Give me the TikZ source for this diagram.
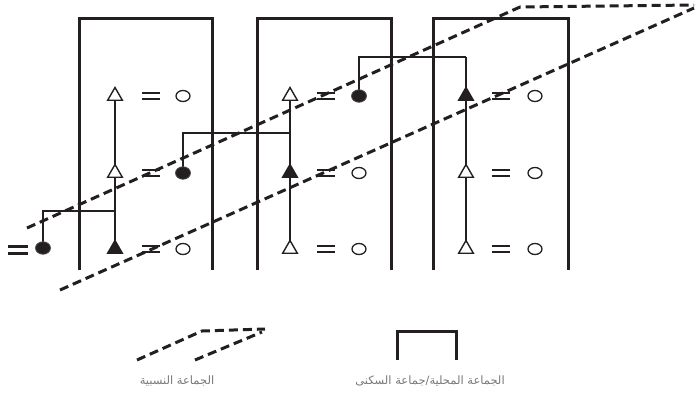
\documentclass[tikz,border=0pt]{standalone}
\usepackage{fontspec}
\newfontfamily\arabicfont[Script=Arabic]{DejaVu Sans}
\TeXXeTstate=1
\usetikzlibrary{shapes.geometric}
\definecolor{ink}{HTML}{231F20}
\definecolor{labelgray}{HTML}{77787B}
\tikzset{
  boxline/.style={draw=ink, line width=3pt, line cap=butt},
  conn/.style={draw=ink, line width=1.7pt},
  dsh/.style={draw=ink, line width=3pt, dash pattern=on 9pt off 5pt},
  tri/.style={regular polygon, regular polygon sides=3, minimum size=17pt, inner sep=0pt, draw=ink, line width=1.4pt, fill=white},
  trif/.style={tri, fill=ink},
  circ/.style={ellipse, minimum width=14pt, minimum height=11pt, inner sep=0pt, draw=ink, line width=1.3pt, fill=white},
  circf/.style={ellipse, minimum width=15pt, minimum height=12.5pt, inner sep=0pt, draw=ink!80, line width=0.8pt, fill=ink},
  eqline/.style={draw=ink, line width=2.1pt},
  pics/eqs/.style={code={\draw[eqline] (-9,-2.9) -- (9,-2.9) (-9,2.9) -- (9,2.9);}},
  pics/eqbig/.style={code={\draw[draw=ink, line width=2.9pt] (-10,-3.7) -- (10,-3.7) (-10,3.7) -- (10,3.7);}},
  lbl/.style={font=\arabicfont\fontsize{11.5}{13}\selectfont, text=labelgray, inner sep=0pt}
}
\begin{document}
\begin{tikzpicture}[x=1pt,y=-1pt]
\useasboundingbox (0,0) rectangle (696,402);
% boxes
\draw[boxline] (79,270) -- (79,18) -- (212,18) -- (212,270);
\draw[boxline] (257,270) -- (257,18) -- (391,18) -- (391,270);
\draw[boxline] (433,270) -- (433,18) -- (568,18) -- (568,270);
% node positions
\coordinate (p11) at (115,96);  \coordinate (p12) at (115,173);  \coordinate (p13) at (115,249);
\coordinate (p21) at (290,96);  \coordinate (p22) at (290,173);  \coordinate (p23) at (290,249);
\coordinate (p31) at (466,96);  \coordinate (p32) at (466,173);  \coordinate (p33) at (466,249);
\coordinate (j1) at (115,211);
\coordinate (j2) at (290,133);
\coordinate (j3) at (466,57);
% connectors
\draw[conn] (p13) -- (p11);
\draw[conn] (p23) -- (p21);
\draw[conn] (p33) -- (j3);
\draw[conn] (43,248) |- (j1);
\draw[conn] (183,173) |- (j2);
\draw[conn] (359,96) |- (j3);
% triangles
\node[tri]  (t11) at (p11) {};
\node[tri]  (t12) at (p12) {};
\node[trif] (t13) at (p13) {};
\node[tri]  (t21) at (p21) {};
\node[trif] (t22) at (p22) {};
\node[tri]  (t23) at (p23) {};
\node[trif] (t31) at (p31) {};
\node[tri]  (t32) at (p32) {};
\node[tri]  (t33) at (p33) {};
% equals signs
\pic at (151,96) {eqs};  \pic at (151,173) {eqs};  \pic at (151,249) {eqs};
\pic at (326,96) {eqs};  \pic at (326,173) {eqs};  \pic at (326,249) {eqs};
\pic at (501,96) {eqs};  \pic at (501,173) {eqs};  \pic at (501,249) {eqs};
\pic at (18,250) {eqbig};
% circles
\node[circ]  (c11) at (183,96) {};
\node[circf] (c12) at (183,173) {};
\node[circ]  (c13) at (183,249) {};
\node[circf] (c21) at (359,96) {};
\node[circ]  (c22) at (359,173) {};
\node[circ]  (c23) at (359,249) {};
\node[circ]  (c31) at (535,96) {};
\node[circ]  (c32) at (535,173) {};
\node[circ]  (c33) at (535,249) {};
\node[circf] (c0) at (43,248) {};
% dashed band
\draw[dsh] (27,228) -- (520,7) -- (694,5);
\draw[dsh] (60,290) -- (694,8);
% legend
\draw[dsh] (137,360) -- (202,331) -- (265,329);
\draw[dsh] (195,360) -- (262,332);
\draw[boxline] (397,360) -- (397,331) -- (456,331) -- (456,360);
\node[lbl] (l1) at (177,381) {\beginR الجماعة النسبية\endR};
\node[lbl] (l2) at (430,381) {\beginR الجماعة المحلية/جماعة السكنى\endR};
\end{tikzpicture}
\end{document}
